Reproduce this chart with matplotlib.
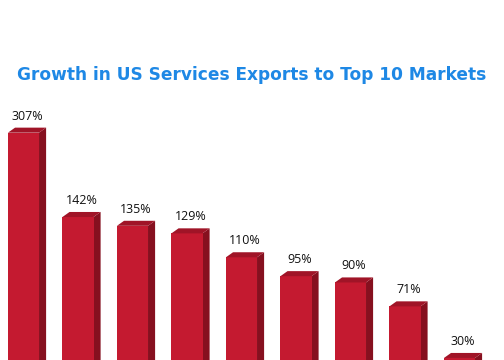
import numpy as np
import matplotlib.pyplot as plt
from matplotlib.patches import Polygon

# growth values (%) for the visible markets
growth = [307, 142, 135, 129, 110, 95, 90, 71, 30]
labels = ['307%', '142%', '135%', '129%', '110%', '95%', '90%', '71%', '30%']

# the first bar is drawn with a broken (capped) height in the original
cap = 209

fig = plt.figure(figsize=(7, 5), dpi=72)
ax = fig.add_axes([0, 0, 1, 1])

x = np.arange(len(growth))
heights = np.minimum(growth, cap)
w = 0.57
dx = 0.13   # depth offset in x (data units)
dy = 4.0    # depth offset in y (data units)

ax.bar(x, heights, width=w, color='#c41a30', zorder=3)

for xi, h, lab in zip(x, heights, labels):
    left, right = xi - w / 2, xi + w / 2
    # side face
    ax.add_patch(Polygon([(right, 0), (right, h), (right + dx, h + dy), (right + dx, 0)],
                         closed=True, facecolor='#86101f', edgecolor='none', zorder=2))
    # top face
    ax.add_patch(Polygon([(left, h), (right, h), (right + dx, h + dy), (left + dx, h + dy)],
                         closed=True, facecolor='#a01427', edgecolor='none', zorder=4))
    ax.text(xi + dx / 2, h + dy + 4, lab, ha='center', va='bottom',
            fontsize=12.5, family='Open Sans', color='#111111', zorder=5)

ax.set_xlim(-0.431, 8.817)
ax.set_ylim(28.4, 314.4)
ax.axis('off')

fig.text(0.5, 1 - 75 / 360, 'Growth in US Services Exports to Top 10 Markets',
         ha='center', va='center', fontsize=17, fontweight='bold',
         family='DejaVu Sans', color='#1e88e5')

fig.savefig('out.png', dpi=72)
